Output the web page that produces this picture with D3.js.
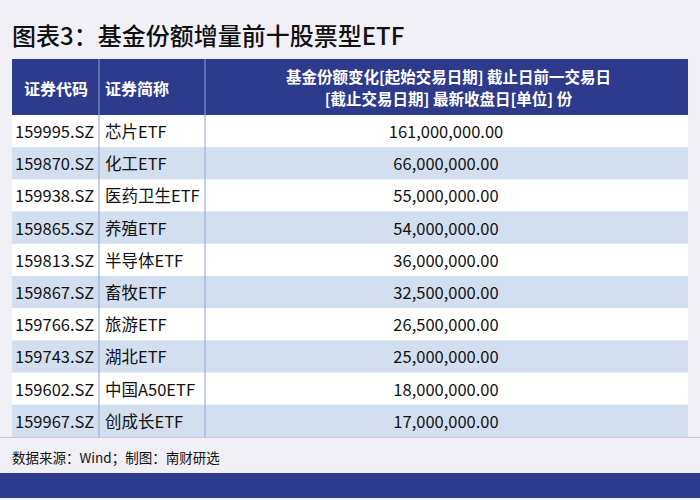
<!DOCTYPE html><html><head><meta charset="utf-8"><script src="https://cdn.jsdelivr.net/npm/d3@7"></script>
<style>body{margin:0;background:#f0f0f6}</style></head><body><svg id="c" width="700" height="500"></svg>
<script>
const title="图表3：基金份额增量前十股票型ETF";
const headers=["证券代码","证券简称"];
const header3=["基金份额变化[起始交易日期] 截止日前一交易日","[截止交易日期] 最新收盘日[单位] 份"];
const codes=["159995.SZ","159870.SZ","159938.SZ","159865.SZ","159813.SZ","159867.SZ","159766.SZ","159743.SZ","159602.SZ","159967.SZ"];
const names=["芯片ETF","化工ETF","医药卫生ETF","养殖ETF","半导体ETF","畜牧ETF","旅游ETF","湖北ETF","中国A50ETF","创成长ETF"];
const values=[161000000,66000000,55000000,54000000,36000000,32500000,26500000,25000000,18000000,17000000];
const source="数据来源：Wind；制图：南财研选";
const F="'Noto Sans CJK SC','Noto Sans',sans-serif";
const svg=d3.select("#c");
svg.append("rect").attr("width",700).attr("height",500).attr("fill","#f0f0f6");
svg.append("text").attr("x",12).attr("y",45).attr("font-family",F).attr("font-size",24).attr("font-weight",500).attr("fill","#111").text(title);
const x0=12,x1=99,x2=205,x3=688,hy=59,hh=56;
const y=d3.scaleBand().domain(d3.range(codes.length)).range([hy+hh,437]);
svg.append("rect").attr("x",x0).attr("y",hy).attr("width",x3-x0).attr("height",hh).attr("fill","#2e3a8c");
svg.append("text").attr("x",x0+12).attr("y",hy+36).attr("font-family",F).attr("font-size",16).attr("font-weight",700).attr("fill","#fff").text(headers[0]);
svg.append("text").attr("x",x1+6).attr("y",hy+36).attr("font-family",F).attr("font-size",16).attr("font-weight",700).attr("fill","#fff").text(headers[1]);
header3.forEach((t,i)=>svg.append("text").attr("x",(x2+x3)/2+2).attr("y",hy+24+i*22).attr("text-anchor","middle").attr("font-family",F).attr("font-size",15.5).attr("font-weight",700).attr("fill","#fff").text(t));
const fmt=d3.format(",.2f");
const g=svg.selectAll("g.r").data(codes).join("g").attr("transform",(d,i)=>`translate(0,${y(i)})`);
g.append("rect").attr("x",x0).attr("width",x3-x0).attr("height",y.bandwidth()).attr("fill",(d,i)=>i%2?"#d3dfee":"#fff");
g.append("text").attr("x",x0+3).attr("y",23).attr("font-family",F).attr("font-size",16.5).attr("fill","#111").text(d=>d);
g.append("text").attr("x",x1+6).attr("y",23).attr("font-family",F).attr("font-size",16.5).attr("fill","#111").text((d,i)=>names[i]);
g.append("text").attr("x",446).attr("y",23).attr("text-anchor","middle").attr("font-family",F).attr("font-size",16.5).attr("fill","#111").text((d,i)=>fmt(values[i]));
[x1,x2].forEach(x=>svg.append("line").attr("x1",x).attr("x2",x).attr("y1",hy).attr("y2",437).attr("stroke","#8fa3cf").attr("stroke-width",1));
svg.append("line").attr("x1",0).attr("x2",700).attr("y1",437.5).attr("y2",437.5).attr("stroke","#c8c8d8");
svg.append("text").attr("x",12).attr("y",463).attr("font-family",F).attr("font-size",13.5).attr("fill","#111").text(source);
svg.append("rect").attr("x",0).attr("y",473).attr("width",700).attr("height",25).attr("fill","#2e3a8c");
</script></body></html>
